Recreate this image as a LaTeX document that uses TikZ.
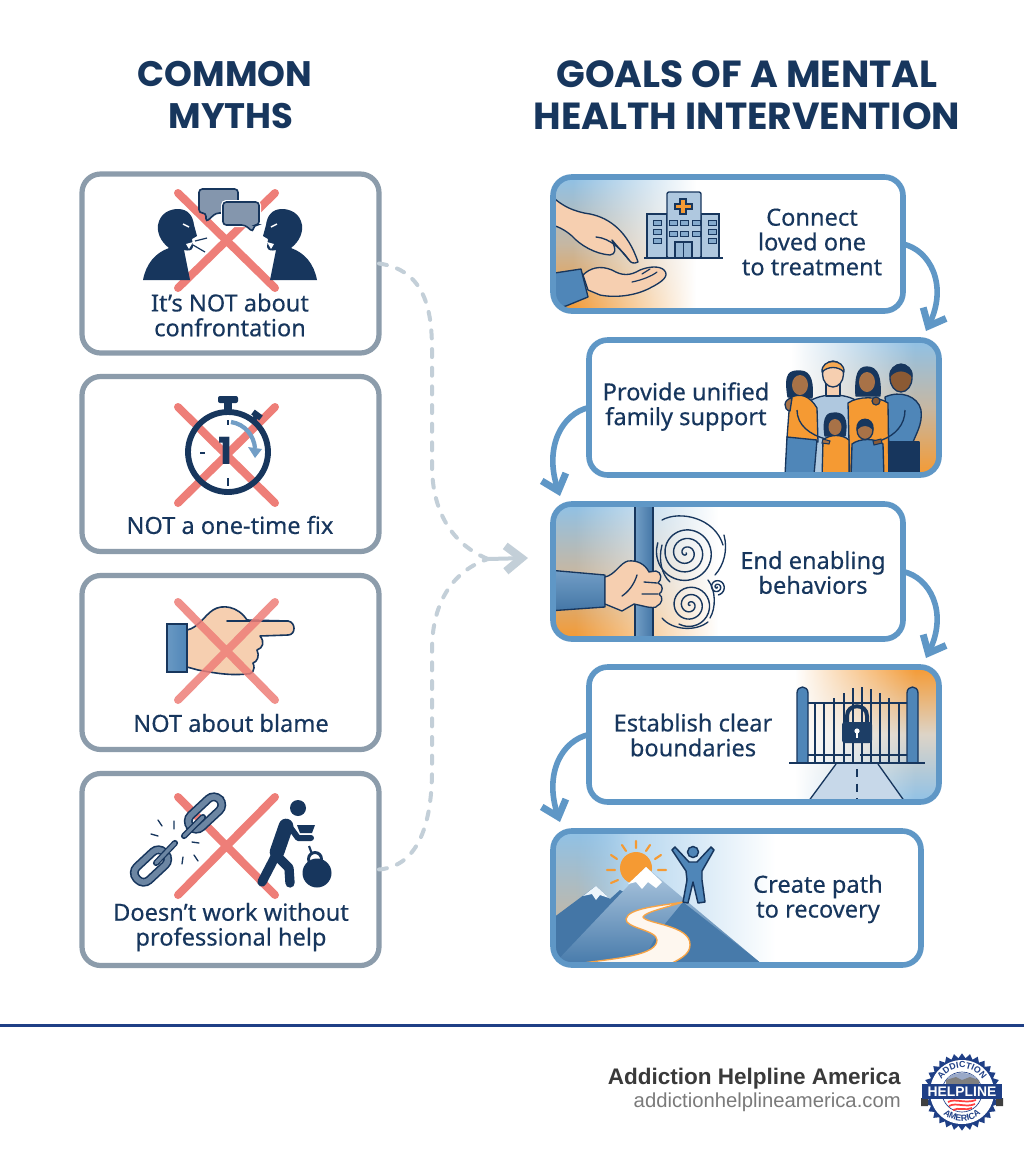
\documentclass[tikz,border=0pt]{standalone}
\usepackage{fontspec}
\setmainfont{Noto Sans}
\newfontfamily\bodyfont[FakeBold=0.35]{Noto Sans}
\newfontfamily\titlefont{Poppins}
\newfontfamily\footfont{Liberation Sans}
\usetikzlibrary{arrows.meta,fadings,shapes.geometric,decorations.text,calc}
\definecolor{navy}{HTML}{17365D}
\definecolor{slateb}{HTML}{8C9CAB}
\definecolor{flowb}{HTML}{5F97C6}
\definecolor{crossr}{HTML}{EE7E78}
\definecolor{dashg}{HTML}{C3CFD8}
\definecolor{skyb}{HTML}{8FC1E6}
\definecolor{tanm}{HTML}{C6B7A2}
\definecolor{orng}{HTML}{F59A33}
\definecolor{skin}{HTML}{F6CFB0}
\definecolor{medskin}{HTML}{A87247}
\definecolor{darkskin}{HTML}{8B5A34}
\definecolor{midb}{HTML}{4F86B8}
\definecolor{paleb}{HTML}{AFC8DF}
\definecolor{bubg}{HTML}{8496AD}
\definecolor{chaing}{HTML}{6C86A3}
\definecolor{logob}{HTML}{1F3F86}
\definecolor{footd}{HTML}{3A3A3A}
\definecolor{footg}{HTML}{7A7A7A}
\pgfdeclarehorizontalshading{shR}{100bp}{color(0bp)=(pgftransparent!100); color(30bp)=(pgftransparent!100); color(62bp)=(pgftransparent!0); color(100bp)=(pgftransparent!0)}
\pgfdeclarehorizontalshading{shL}{100bp}{color(0bp)=(pgftransparent!0); color(38bp)=(pgftransparent!0); color(69bp)=(pgftransparent!100); color(100bp)=(pgftransparent!100)}
\pgfdeclarefading{whiteR}{\pgfuseshading{shR}}
\pgfdeclarefading{whiteL}{\pgfuseshading{shL}}
\tikzset{
  mythbox/.style={draw=slateb,line width=3.9pt,rounded corners=14pt,inner sep=0pt,outer sep=0pt},
  goalbox/.style={draw=flowb,line width=4.2pt,rounded corners=14pt,inner sep=0pt,outer sep=0pt},
  mythtext/.style={text=navy,align=center,inner sep=0pt,font=\bodyfont\fontsize{17.7}{18.6}\selectfont},
  titleleft/.style={text=navy,align=center,inner sep=0pt,font=\titlefont\bfseries\fontsize{26.6}{31.5}\selectfont},
  titleright/.style={text=navy,align=center,inner sep=0pt,font=\titlefont\bfseries\fontsize{28.3}{31.5}\selectfont},
  crossline/.style={crossr,line width=6pt,line cap=round},
  flow/.style={flowb,line width=4.2pt,-{Straight Barb[length=11pt,width=19pt,line width=5.2pt]}},
  dashflow/.style={dashg,line width=3pt,line cap=round,dash pattern=on 6pt off 8pt},
  ink/.style={draw=navy,line width=1pt,line join=round},
}
\newcommand{\xmark}[2]{\draw[crossline] (178,#1)--(275,#2) (275,#1)--(178,#2);}
\newcommand{\shoutman}{%
  \fill[navy] (143,280) .. controls (146,264) and (155,253) .. (169,248)
    .. controls (160,241) and (157,232) .. (158,225)
    .. controls (160,213) and (170,209) .. (178,209)
    .. controls (188,209) and (193,216) .. (194,225)
    -- (197,236) -- (192,239) -- (193,247) .. controls (192,251) and (188,251) .. (184,250) -- (190,280) -- cycle;
  \fill[white] (193,242) -- (186,244) -- (189,249) -- cycle;
  \draw[white,line width=1.1pt] (183,224)--(189,227);
}
\newcommand{\spiral}[5]{% cx cy rmax turnsdeg phase
  \draw[navy,line width=1.05pt,line cap=round] plot[domain=0:#4,samples=90,smooth] ({#1+#3*(\x/#4)*cos(\x+#5)},{#2+#3*(\x/#4)*sin(\x+#5)});
}
\newcommand{\chainlink}[4]{% cx cy halflen halfwid  rotated 45
  \begin{scope}[shift={(#1,#2)},rotate=43]
    \draw[navy,line width=6.6pt,rounded corners=6pt] (-#3,-#4) rectangle (#3,#4);
    \draw[chaing,line width=4.2pt,rounded corners=6pt] (-#3,-#4) rectangle (#3,#4);
  \end{scope}
}
\begin{document}
\begin{tikzpicture}[x=0.75pt,y=-0.75pt]
\useasboundingbox (0,0) rectangle (1024,1154);
\fill[white] (0,0) rectangle (1024,1154);

% ---------- titles
\node[titleleft] (t1) at (225,74) {COMMON};
\node[titleleft] (t2) at (231,116) {MYTHS};
\node[titleright] (t3) at (747,74) {GOALS OF A MENTAL};
\node[titleright] (t4) at (747,116) {HEALTH INTERVENTION};

% ---------- myth 1
\xmark{193}{288}
\shoutman
\begin{scope}[xshift=345pt,xscale=-1]\shoutman\end{scope}
\draw[navy,line width=.9pt] (195,241)--(207,238) (193,245)--(205,252);
\draw[navy,fill=bubg,line width=1.2pt,rounded corners=2.5pt] (199,189) -- (238,189) -- (238,213) -- (216,213) -- (206,222) -- (206,213) -- (199,213) -- cycle;
\draw[white,line width=3pt,rounded corners=2.5pt] (223,202) -- (259,202) -- (259,225) -- (223,225) -- cycle;
\draw[navy,fill=bubg,line width=1.2pt,rounded corners=2.5pt] (223,202) -- (259,202) -- (259,225) -- (254,225) -- (253,232) -- (245,225) -- (223,225) -- cycle;
\node[mythbox,minimum width=222.75pt,minimum height=134.25pt] (m1) at (230.5,263.5) {};
\node[mythtext] (m1t) at (230,315) {It’s NOT about\\confrontation};

% ---------- myth 2
\xmark{407}{503}
\draw[navy,line width=4.4pt] (228,452) circle (40);
\fill[navy,rounded corners=1.5pt] (218,396) rectangle (238,403);
\fill[navy] (224,402) rectangle (232,412);
\draw[navy,line width=3.6pt] (252,421)--(257,416);
\draw[navy,line width=4.5pt] (253,412)--(261,418);
\draw[navy,line width=1.6pt] (200,453)--(205,453) (228,478)--(228,486) (228,420)--(228,425);
\draw[midb!80,line width=3.2pt] (231,422) .. controls (245,424) and (254,436) .. (255,448);
\fill[midb!80] (248,447)--(262,449)--(255,458)--cycle;
\node[inner sep=0pt,text=navy,font=\titlefont\bfseries\fontsize{28}{28}\selectfont] (one) at (226,451) {1};
\node[mythbox,minimum width=222.75pt,minimum height=131.25pt] (m2) at (230.5,464) {};
\node[mythtext] (m2t) at (230,525) {NOT a one-time fix};

% ---------- myth 3
\shade[left color=midb!85,right color=midb] (167,624) rectangle (187,672);
\draw[navy,line width=1.2pt] (167,624) rectangle (187,672);
\draw[navy,fill=skin,line width=1.2pt,line join=round] (187,630) .. controls (198,628) and (205,615) .. (213,610)
  .. controls (222,604) and (238,606) .. (247,620) -- (288,621)
  .. controls (296,622) and (296,635) .. (288,635) -- (260,636)
  .. controls (265,642) and (263,648) .. (257,650)
  .. controls (260,656) and (257,662) .. (253,663)
  .. controls (256,670) and (252,675) .. (246,674)
  .. controls (228,676) and (210,672) .. (198,670) -- (187,667) -- cycle;
\draw[navy,line width=1.2pt,line cap=round] (227,621)--(288,621);
\begin{scope}[opacity=.85]\xmark{602}{700}\end{scope}
\node[mythbox,minimum width=222.75pt,minimum height=130.5pt] (m3) at (230.5,662.5) {};
\node[mythtext] (m3t) at (231,723) {NOT about blame};

% ---------- myth 4
\xmark{797}{895}
\chainlink{205}{813}{20}{8}
\draw[navy,line width=4.6pt,line cap=round] (184,836)--(203,817);
\draw[chaing,line width=2.6pt,line cap=round] (184,836)--(203,817);
\chainlink{151}{866}{19}{9}
\draw[navy,line width=4.6pt,line cap=round] (156,863)--(175,843);
\draw[chaing,line width=2.6pt,line cap=round] (156,863)--(175,843);
\draw[navy,line width=1pt,line cap=round] (162,826)--(158,820) (174,821)--(174,829) (158,836)--(151,834)
 (192,842)--(199,843) (194,855)--(198,861) (183,857)--(182,864);
\fill[navy] (298,808) circle (8);
\draw[navy,line width=7pt,line cap=round,line join=round] (276,855)--(262,882);
\draw[navy,line width=11pt,line cap=round] (286,826)--(277,852);
\draw[navy,line width=7pt,line cap=round,line join=round] (276,855)--(289,868)--(290,883);
\draw[navy,line width=4.5pt,line cap=round,line join=round] (290,827)--(298,838)--(311,838);
\fill[navy] (297,825)--(315,825)--(312,833)--(300,833)--cycle;
\draw[navy,line width=1.6pt] (309,846)--(312,854);
\draw[navy,line width=2.2pt] (315,859) circle (6.5);
\fill[navy] (317,873) circle (14.5);
\node[mythbox,minimum width=222.75pt,minimum height=144pt] (m4) at (230.5,869.5) {};
\node[mythtext] (m4t) at (231,927) {Doesn’t work without\\professional help};

% ---------- goal 1
\begin{scope}
\clip[rounded corners=14pt] (553,177) rectangle (903,311);
\shade[top color=skyb,bottom color=orng,middle color=tanm] (553,177) rectangle (715,311);
\fill[white,path fading=whiteR] (553,177) rectangle (745,311);
\draw[navy,fill=skin,line width=1pt,line join=round] (548,192) .. controls (560,206) and (575,212) .. (590,214)
  .. controls (610,218) and (628,232) .. (638,262)
  .. controls (634,264) and (631,263) .. (629,260) -- (612,240)
  .. controls (616,250) and (616,254) .. (610,255)
  .. controls (595,254) and (580,245) .. (572,236) .. controls (565,230) and (558,226) .. (548,224) -- cycle;
\draw[navy,line width=1pt,line cap=round] (596,237) .. controls (610,238) and (622,250) .. (629,260);
\draw[navy,fill=midb,line width=1pt,line join=round] (548,274) -- (581,269) -- (588,297) -- (566,306) -- (548,310) -- cycle;
\draw[navy,fill=skin,line width=1pt,line join=round] (583,275) .. controls (590,268) and (600,265) .. (612,270)
  .. controls (622,276) and (630,276) .. (640,270)
  .. controls (650,266) and (660,266) .. (664,270)
  .. controls (670,276) and (662,282) .. (650,288)
  .. controls (635,296) and (615,298) .. (600,295) -- (588,290) -- cycle;
\draw[navy,line width=.9pt,line cap=round] (632,282) .. controls (642,280) and (652,276) .. (657,272)
  (642,274)--(650,269);
\end{scope}
\draw[navy,fill=paleb,line width=1pt] (647,214) rectangle (667,258);
\draw[navy,fill=paleb,line width=1pt] (701,214) rectangle (719,258);
\draw[navy,fill=paleb,line width=1pt,rounded corners=1.5pt] (667,192) rectangle (701,258);
\draw[navy,line width=1pt] (644,258)--(723,258);
\draw[navy,fill=orng,line width=.8pt] (680,199) -- (686,199) -- (686,204) -- (692,204) -- (692,209) -- (686,209) -- (686,214) -- (680,214) -- (680,209) -- (675,209) -- (675,204) -- (680,204) -- cycle;
\foreach \wx/\wy in {653/220,653/229,653/238,708/220,708/229,708/238,669/220,680/220,669/231,680/231,692/220,692/231}{
  \draw[navy,fill=midb!70,line width=.6pt] (\wx,\wy) rectangle ++(8,5.5);
}
\draw[navy,fill=midb!60,line width=.8pt] (675,242) rectangle (692,258);
\draw[navy,line width=.8pt] (683.5,242)--(683.5,258);
\node[goalbox,minimum width=262.5pt,minimum height=100.5pt] (g1) at (728,244) {};
\node[mythtext] (g1t) at (812,242) {Connect\\loved one\\to treatment};

% ---------- goal 2
\begin{scope}
\clip[rounded corners=14pt] (589,340) rectangle (939,475);
\shade[top color=skyb,bottom color=orng,middle color=tanm] (770,340) rectangle (939,475);
\fill[white,path fading=whiteL] (740,340) rectangle (939,475);
% man centre
\draw[ink,fill=paleb] (810,401) .. controls (822,393) and (845,393) .. (857,401) -- (857,475) -- (812,475) -- cycle;
\draw[ink,fill=skin] (826,384) rectangle (840,396);
\draw[ink,fill=skin] (833,374) ellipse (10.5 and 13);
\draw[ink,fill=orng!85] (822,372) .. controls (821,358) and (845,358) .. (844,372) .. controls (838,366) and (828,366) .. (822,372) -- cycle;
% left woman
\draw[ink,fill=navy] (788,397) .. controls (784,372) and (790,371) .. (800,371) .. controls (812,371) and (813,385) .. (812,398) -- cycle;
\draw[ink,fill=orng] (790,398) .. controls (800,392) and (810,396) .. (817,408) -- (818,442) -- (787,438) -- cycle;
\fill[medskin] (800,385) ellipse (8 and 10);
\draw[ink,fill=midb] (787,437) -- (817,440) -- (814,475) -- (785,475) -- cycle;
\draw[ink,fill=medskin] (792,398) .. controls (783,399) and (783,410) .. (790,411) -- cycle;
\draw[navy,line width=1pt] (797,410) .. controls (797,425) and (810,435) .. (826,439);
% right man (behind)
\draw[ink,fill=midb] (885,397) .. controls (900,390) and (918,396) .. (921,410) .. controls (923,425) and (915,435) .. (912,445) -- (889,445) -- cycle;
\draw[ink,fill=navy] (888,442) rectangle (919,480);
\draw[ink,fill=darkskin] (901,378) ellipse (11 and 14);
\draw[ink,fill=navy] (890,376) .. controls (889,361) and (913,361) .. (912,376) .. controls (906,369) and (896,369) .. (890,376) -- cycle;
% right woman
\draw[ink,fill=navy] (856,396) .. controls (855,375) and (858,367) .. (867,367) .. controls (878,367) and (881,378) .. (880,396) -- cycle;
\draw[ink,fill=orng] (848,403) .. controls (858,396) and (878,396) .. (888,403) -- (889,480) -- (850,480) -- cycle;
\fill[medskin] (867,382) ellipse (8 and 10);
\draw[navy,fill=darkskin,line width=.9pt] (876,401) circle (4);
% girl
\draw[ink,fill=navy] (825,436) .. controls (822,414) and (829,413) .. (835,413) .. controls (843,413) and (848,418) .. (845,436) -- cycle;
\draw[ink,fill=orng] (823,440) .. controls (830,434) and (842,434) .. (849,440) -- (849,480) -- (822,480) -- cycle;
\fill[medskin] (835,427) ellipse (6.5 and 8);
% boy
\draw[ink,fill=midb] (852,444) .. controls (860,438) and (875,438) .. (883,444) -- (884,480) -- (851,480) -- cycle;
\draw[ink,fill=medskin] (865,430) ellipse (8 and 9.5);
\draw[ink,fill=navy] (857,429) .. controls (856,416) and (874,416) .. (873,429) .. controls (868,424) and (862,424) .. (857,429) -- cycle;
% arms
\draw[navy,fill=medskin,line width=.8pt] (823,439) -- (830,441) -- (829,444) -- (822,443) -- cycle;
\draw[navy,fill=darkskin,line width=.8pt] (873,441) -- (881,439) -- (882,443) -- (874,445) -- cycle;
\draw[navy,line width=1pt] (905,410) .. controls (905,425) and (895,435) .. (882,440);
\end{scope}
\node[goalbox,minimum width=262.5pt,minimum height=101.25pt] (g2) at (764,407.5) {};
\node[mythtext] (g2t) at (686,406.5) {Provide unified\\family support};

% ---------- goal 3
\begin{scope}
\clip[rounded corners=14pt] (553,504) rectangle (903,639);
\shade[top color=skyb,bottom color=orng,middle color=tanm] (553,504) rectangle (745,639);
\fill[white,path fading=whiteR] (553,504) rectangle (775,639);
\shade[left color=midb!80!white,right color=midb!80!navy] (635,500) rectangle (653,645);
\draw[navy,line width=1pt] (653,500)--(653,645);
\draw[navy,line width=1pt] (635,500)--(635,570) (635,600)--(635,645);
\shade[top color=midb!80,bottom color=midb!80!navy] (548,570) -- (605,575) -- (605,607) -- (548,611) -- cycle;
\draw[navy,line width=1pt,line join=round] (548,570) -- (605,575) -- (605,607) -- (548,611);
\draw[navy,fill=skin,line width=1pt,line join=round] (605,577) .. controls (615,575) and (620,563) .. (628,561)
  .. controls (637,560) and (645,564) .. (649,572) -- (656,571) .. controls (662,572) and (662,580) .. (658,583)
  .. controls (664,585) and (663,592) .. (659,594) .. controls (664,597) and (662,604) .. (657,606)
  .. controls (657,608) and (650,608) .. (643,606) -- (634,604) -- (622,611) -- (605,604) -- cycle;
\draw[navy,line width=1pt,line cap=round] (644,582)--(657,583) (642,594)--(658,594) (637,575) .. controls (634,585) and (628,592) .. (622,596);
\spiral{686}{553}{30}{1260}{20}
\spiral{690}{605}{22}{1080}{120}
\spiral{717}{587}{8}{800}{0}
\draw[navy,line width=1pt,line cap=round] (662,520) .. controls (680,510) and (715,518) .. (723,545)
  (724,535) .. controls (728,550) and (724,565) .. (715,575)
  (662,545) .. controls (658,560) and (662,575) .. (670,582)
  (662,618) .. controls (672,630) and (695,632) .. (708,622)
  (708,580) .. controls (716,590) and (716,608) .. (710,618);
\end{scope}
\node[goalbox,minimum width=262.5pt,minimum height=101.25pt] (g3) at (728,571.5) {};
\node[mythtext] (g3t) at (813,572.5) {End enabling\\behaviors};

% ---------- goal 4
\begin{scope}
\clip[rounded corners=14pt] (589,667) rectangle (939,802);
\shade[top color=orng,bottom color=skyb,middle color=tanm!60!white] (775,667) rectangle (939,802);
\fill[white,path fading=whiteL] (745,667) rectangle (939,802);
\fill[paleb!70!white] (836,764) -- (878,764) -- (905,802) -- (808,802) -- cycle;
\draw[navy,line width=1pt] (836,764)--(808,802) (878,764)--(905,802);
\draw[navy,line width=1.3pt,dash pattern=on 6pt off 5pt] (857,769)--(857,802);
\foreach \gx/\gt in {815/704,824/702,834/698,844/693,853/688,862/687,871/689,880/693,889/698,899/702}{
  \draw[navy,line width=1pt] (\gx,\gt)--(\gx,763);
}
\draw[navy,line width=1.1pt] (808,703)--(907,703) (808,755)--(851,755) (860,755)--(907,755);
\draw[navy,fill=midb,line width=1pt] (797,763) -- (797,693) .. controls (797,685) and (808,685) .. (808,693) -- (808,763) -- cycle;
\draw[navy,fill=midb,line width=1pt] (907,763) -- (907,693) .. controls (907,685) and (918,685) .. (918,693) -- (918,763) -- cycle;
\draw[navy,line width=1.1pt] (789,763)--(925,763);
\draw[navy,line width=3pt] (847,724) -- (847,716) .. controls (847,703) and (867,703) .. (867,716) -- (867,724);
\fill[navy!90!midb,rounded corners=2pt] (842,722) rectangle (872,743);
\fill[white] (857,731) circle (2.6);
\fill[white] (855.7,732) rectangle (858.3,738);
\end{scope}
\node[goalbox,minimum width=262.5pt,minimum height=101.25pt] (g4) at (764,734.5) {};
\node[mythtext] (g4t) at (693,735) {Establish clear\\boundaries};

% ---------- goal 5
\begin{scope}
\clip[rounded corners=14pt] (553,831) rectangle (921,965);
\shade[left color=skyb,middle color=orng!30!white,right color=white] (553,831) rectangle (775,965);
\shade[top color=skyb,bottom color=tanm,path fading=whiteL] (553,831) rectangle (640,930);
\fill[orng] (636,868) circle (16);
\draw[orng,line width=1.6pt,line cap=round] (636,841)--(636,848) (622,845)--(626,851) (650,845)--(646,851) (611,855)--(617,859) (661,855)--(655,859) (607,870)--(615,870) (658,870)--(666,870) (611,883)--(618,880);
\fill[midb!80!navy] (553,918) -- (596,886) -- (610,899) -- (620,890) -- (640,900) -- (610,965) -- (553,965) -- cycle;
\fill[white!85!skyb] (596,886) -- (583,896) -- (592,894) -- (596,900) -- (600,895) -- (609,898) -- cycle;
\shade[top color=paleb,bottom color=midb!85!navy] (553,965) -- (646,867) -- (763,965) -- cycle;
\fill[midb!85!navy] (683,902) -- (763,965) -- (640,965) -- (660,930) -- cycle;
\fill[white] (646,867) -- (628,884) -- (636,882) -- (642,889) -- (648,882) -- (656,888) -- (662,882) -- cycle;
\fill[white!92!orng,draw=orng!90,line width=1pt] (583,963) .. controls (620,958) and (657,955) .. (657,940)
  .. controls (657,930) and (625,928) .. (626,919)
  .. controls (628,908) and (660,906) .. (683,902)
  .. controls (665,908) and (645,912) .. (643,917)
  .. controls (646,924) and (691,925) .. (690,945)
  .. controls (690,955) and (678,960) .. (668,965) -- cycle;
\end{scope}
\draw[navy,fill=midb,line width=1.1pt,line join=round,line cap=round] (672,850) -- (675,847) -- (689,862) -- (697,862) -- (711,847) -- (714,850)
  -- (702,871) -- (702,880) -- (705,902) -- (698,903) -- (693,882) -- (688,903) -- (683,902) -- (687,880) -- (686,871) -- cycle;
\draw[navy,fill=midb,line width=1.1pt] (693,852) circle (5.5);
\node[goalbox,minimum width=276pt,minimum height=100.5pt] (g5) at (737,898) {};
\node[mythtext] (g5t) at (818,899) {Create path\\to recovery};

% ---------- flow arrows
\coordinate (a1) at (926,331);
\coordinate (a2) at (560,496);
\coordinate (a3) at (926,658);
\coordinate (a4) at (560,822);
\draw[flow] (g1.east) .. controls +(27,6) and (948,285) .. (a1);
\draw[flow] (g2.west) .. controls +(-27,6) and (544,447) .. (a2);
\draw[flow] (g3.east) .. controls +(27,6) and (948,612) .. (a3);
\draw[flow] (g4.west) .. controls +(-27,6) and (544,773) .. (a4);

% ---------- dashed links
\coordinate (jn) at (488,559);
\coordinate (tip) at (528,558);
\draw[dashflow] (m1.east) .. controls (425,270) and (432,310) .. (432,350) -- (432,465) .. controls (432,525) and (465,550) .. (jn);
\draw[dashflow] (m4.east) .. controls (420,866) and (432,820) .. (432,770) -- (432,650) .. controls (432,600) and (455,570) .. (jn);
\draw[dashg,line width=3pt,-{Straight Barb[length=12pt,width=19pt,line width=6pt]}] (jn) -- (tip);

% ---------- footer
\draw[logob,line width=1.9pt] (0,1025.5) -- (1024,1025.5);
\node[anchor=east,inner sep=0pt,text=footd,font=\footfont\bfseries\fontsize{16.9}{18}\selectfont] (f1) at (901,1079) {Addiction Helpline America};
\node[anchor=east,inner sep=0pt,text=footg,font=\footfont\fontsize{15.2}{16}\selectfont] (f2) at (901,1102) {addictionhelplineamerica.com};

% ---------- seal
\node[star,star points=30,star point ratio=1.14,fill=logob,inner sep=0pt,minimum size=58pt] (seal) at (962,1092) {};
\fill[white] (962,1092) circle (32);
\draw[logob,line width=.5pt] (962,1092) circle (20);
\fill[logob!45!white] (962,1080) ellipse (15 and 7);
\fill[gray] (946,1080) -- (956,1077) -- (962,1080) -- (970,1077) -- (979,1080) -- (979,1084) -- (946,1084) -- cycle;
\path[decorate,decoration={text along path,text align=center,text={|\footfont\bfseries\fontsize{6.6}{7}\selectfont\color{logob}|ADDICTION}}] (938,1092) arc (180:360:24);
\path[decorate,decoration={text along path,text align=center,text={|\footfont\bfseries\fontsize{6.6}{7}\selectfont\color{logob}|AMERICA}}] (933,1092) arc (180:0:29);
\draw[red!75!white,line width=1.3pt] (948,1102) .. controls (955,1098) and (965,1104) .. (976,1100)
  (949,1106) .. controls (956,1102) and (966,1108) .. (975,1104) (953,1110) .. controls (958,1107) and (966,1111) .. (972,1108);
\fill[black!75] (921,1098) rectangle (928,1106) (996,1098) rectangle (1003,1106);
\fill[logob] (922,1084) rectangle (1002,1099);
\node[inner sep=0pt,text=white,font=\footfont\bfseries\fontsize{10.4}{12}\selectfont] (sealt) at (962,1091.5) {HELPLINE};
\end{tikzpicture}
\end{document}
